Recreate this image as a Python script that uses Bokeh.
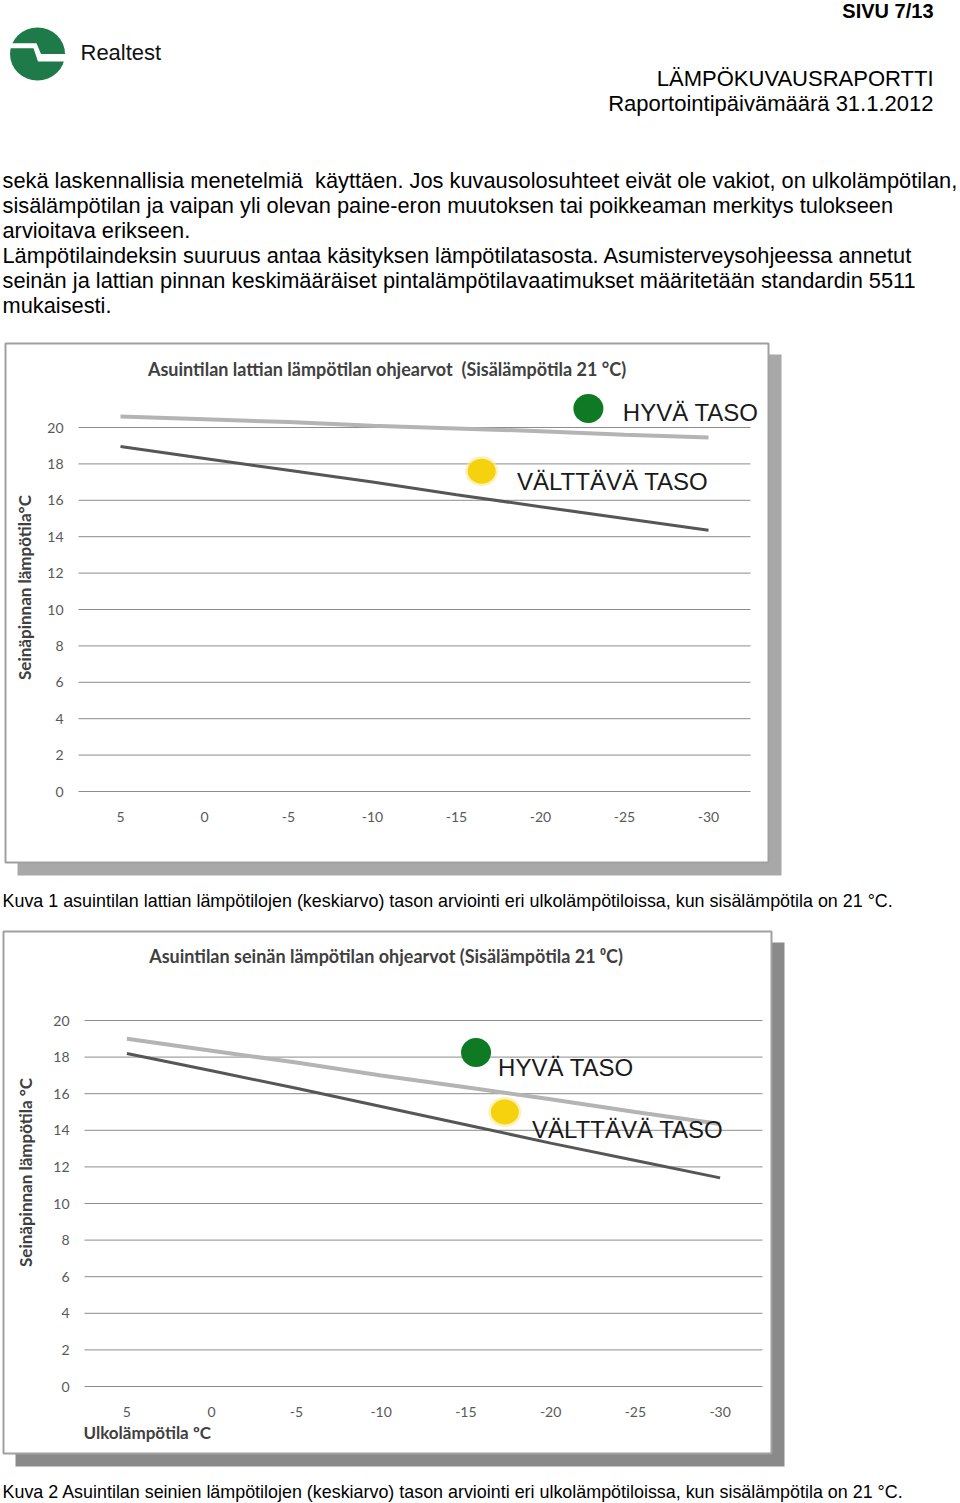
import math
from bokeh.plotting import figure
from bokeh.models import Range1d
from bokeh.core.properties import value
from bokeh.embed import file_html
from bokeh.resources import INLINE

# ---------------- data ----------------
outdoor = [5, 0, -5, -10, -15, -20, -25, -30]
xtick_labels = ["5", "0", "-5", "-10", "-15", "-20", "-25", "-30"]
yticks = [0, 2, 4, 6, 8, 10, 12, 14, 16, 18, 20]
ytick_labels = [str(v) for v in yticks]

# Kuva 1: floor surface temperature guide values
floor_good = [20.6, 20.45, 20.3, 20.1, 19.95, 19.8, 19.6, 19.45]
floor_acceptable = [18.95, 18.3, 17.65, 17.0, 16.3, 15.65, 15.0, 14.35]
# Kuva 2: wall surface temperature guide values
wall_good = [19.0, 18.35, 17.7, 17.0, 16.35, 15.7, 15.0, 14.35]
wall_acceptable = [18.2, 17.25, 16.3, 15.3, 14.3, 13.3, 12.35, 11.4]

# legend markers / labels (in chart data units: outdoor temp, surface temp)
floor_good_marker = [-22.85, 21.05]
floor_acc_marker = [-16.5, 17.6]
floor_good_label = [-24.9, 20.85]
floor_acc_label = [-18.6, 17.05]
wall_good_marker = [-15.6, 18.25]
wall_acc_marker = [-17.3, 15.0]
wall_good_label = [-16.9, 17.45]
wall_acc_label = [-18.9, 14.05]

legend_texts = ["HYVÄ TASO", "VÄLTTÄVÄ TASO"]

title1 = "Asuintilan lattian lämpötilan ohjearvot\u00a0 (Sisälämpötila 21 °C)"
title2 = "Asuintilan seinän lämpötilan ohjearvot (Sisälämpötila 21 ⁰C)"
ylabel1 = "Seinäpinnan lämpötila°C"
ylabel2 = "Seinäpinnan lämpötila °C"
xlabel2 = "Ulkolämpötila ºC"

paragraph = [
    "sekä laskennallisia menetelmiä\u00a0 käyttäen. Jos kuvausolosuhteet eivät ole vakiot, on ulkolämpötilan,",
    "sisälämpötilan ja vaipan yli olevan paine-eron muutoksen tai poikkeaman merkitys tulokseen",
    "arvioitava erikseen.",
    "Lämpötilaindeksin suuruus antaa käsityksen lämpötilatasosta. Asumisterveysohjeessa annetut",
    "seinän ja lattian pinnan keskimääräiset pintalämpötilavaatimukset määritetään standardin 5511",
    "mukaisesti.",
]
caption1 = "Kuva 1 asuintilan lattian lämpötilojen (keskiarvo) tason arviointi eri ulkolämpötiloissa, kun sisälämpötila on 21 °C."
caption2 = "Kuva 2 Asuintilan seinien lämpötilojen (keskiarvo) tason arviointi eri ulkolämpötiloissa, kun sisälämpötila on 21 °C."

# ---------------- page ----------------
W, H = 960, 1503
ARIAL = value("Liberation Sans")
CAL = value("Lato")

p = figure(width=W, height=H, x_range=Range1d(0, W), y_range=Range1d(H, 0),
           output_backend="svg", toolbar_location=None,
           x_axis_type=None, y_axis_type=None, min_border=0,
           outline_line_color=None, background_fill_color="white",
           border_fill_color="white",
           styles={"position": "absolute", "left": "0px", "top": "0px"})

# logo
p.ellipse(x=[37], y=[53.5], width=[55], height=[53], fill_color="#1e7a48", line_color=None)
p.patch(x=[5, 36, 40.5, 70, 70, 37.5, 33, 5], y=[42.7, 42.7, 53.5, 53.5, 61, 61, 47.8, 47.8],
        fill_color="white", line_color=None)
p.text(x=[80], y=[52], text=["Realtest"], text_font=ARIAL, text_font_size="22px",
       text_color="#111111", text_baseline="middle")

# header
p.text(x=[933], y=[10], text=["SIVU 7/13"], text_font=ARIAL, text_font_style="bold",
       text_font_size="20px", text_color="#000000", text_align="right", text_baseline="middle")
p.text(x=[933, 933], y=[78, 103], text=["LÄMPÖKUVAUSRAPORTTI", "Raportointipäivämäärä 31.1.2012"],
       text_font=ARIAL, text_font_size="22px", text_color="#000000", text_align="right",
       text_baseline="middle")

# paragraph
p.text(x=[2] * len(paragraph), y=[180, 204.5, 229.5, 255, 280, 305], text=paragraph,
       text_font=ARIAL, text_font_size="21.8px", text_color="#000000", text_baseline="middle")

# captions
p.text(x=[2, 2], y=[900, 1491], text=[caption1, caption2], text_font=ARIAL,
       text_font_size="17.9px", text_color="#000000", text_baseline="middle")

x_ranges = {}
y_ranges = {}


def chart(key, box, shadow_color, plot_left, plot_right, y0px, y20px,
          good, acc, gm, am, gl, al, title, title_xy, ylabel, ylabel_xy,
          ytick_x, xtick_y, xlabel=None, xlabel_xy=None):
    l, t, r, b = box
    # shadow + frame
    p.quad(left=[l + 12], right=[r + 13], top=[t + 11], bottom=[b + 13],
           fill_color=shadow_color, line_color=None)
    p.quad(left=[l], right=[r], top=[t], bottom=[b], fill_color="white",
           line_color="#a0a0a0", line_width=2)

    n = len(outdoor)
    cat_w = (plot_right - plot_left) / n
    ppu_x = cat_w / (outdoor[0] - outdoor[1])
    x_first = plot_left + cat_w / 2
    x_ranges[key + "x"] = Range1d(outdoor[0] + x_first / ppu_x,
                                  outdoor[0] - (W - x_first) / ppu_x)
    ppu_y = (y0px - y20px) / (yticks[-1] - yticks[0])
    y_ranges[key + "y"] = Range1d(-(H - y0px) / ppu_y, y0px / ppu_y)
    xr, yr = key + "x", key + "y"
    step = outdoor[0] - outdoor[1]

    # gridlines
    p.segment(x0=[outdoor[0] + step / 2] * len(yticks), x1=[outdoor[-1] - step / 2] * len(yticks),
              y0=yticks, y1=yticks, line_color="#8c8c8c", line_width=1,
              x_range_name=xr, y_range_name=yr)
    # tick labels
    p.text(x=[ytick_x] * len(yticks), y=yticks, text=ytick_labels, y_range_name=yr,
           text_font=CAL, text_font_size="14px", text_color="#595959",
           text_align="right", text_baseline="middle")
    p.text(x=outdoor, y=[xtick_y] * len(outdoor), text=xtick_labels, x_range_name=xr,
           text_font=CAL, text_font_size="14px", text_color="#595959",
           text_align="center", text_baseline="middle")
    # lines
    p.line(x=outdoor, y=good, line_color="#b4b4b4", line_width=4,
           x_range_name=xr, y_range_name=yr)
    p.line(x=outdoor, y=acc, line_color="#565656", line_width=3,
           x_range_name=xr, y_range_name=yr)
    # markers
    p.ellipse(x=[am[0]], y=[am[1]], width=[33], height=[30], width_units="screen",
              height_units="screen", fill_color="#fbe98a", fill_alpha=0.6, line_color=None,
              x_range_name=xr, y_range_name=yr)
    p.ellipse(x=[am[0]], y=[am[1]], width=[28], height=[25], width_units="screen",
              height_units="screen", fill_color="#f6d20e", line_color=None,
              x_range_name=xr, y_range_name=yr)
    p.ellipse(x=[gm[0]], y=[gm[1]], width=[30], height=[29], width_units="screen",
              height_units="screen", fill_color="#0e7a24", line_color=None,
              x_range_name=xr, y_range_name=yr)
    p.text(x=[gl[0], al[0]], y=[gl[1], al[1]], text=legend_texts,
           x_range_name=xr, y_range_name=yr, text_font=ARIAL, text_font_size="24px",
           text_color="#1a1a1a", text_baseline="middle")
    # titles
    p.text(x=[title_xy[0]], y=[title_xy[1]], text=[title], text_font=CAL,
           text_font_style="bold", text_font_size="18px", text_color="#404040",
           text_align="center", text_baseline="middle")
    p.text(x=[ylabel_xy[0]], y=[ylabel_xy[1]], text=[ylabel], angle=[math.pi / 2],
           text_font=CAL, text_font_style="bold", text_font_size="17px",
           text_color="#404040", text_align="center", text_baseline="middle")
    if xlabel:
        p.text(x=[xlabel_xy[0]], y=[xlabel_xy[1]], text=[xlabel], text_font=CAL,
               text_font_style="bold", text_font_size="17px", text_color="#404040",
               text_align="left", text_baseline="middle")


chart("c1", (5, 343, 768, 862), "#a8a8a8", 78, 750, 791, 427,
      floor_good, floor_acceptable, floor_good_marker, floor_acc_marker,
      floor_good_label, floor_acc_label, title1, (386.5, 368), ylabel1, (24, 587),
      63, 816)
chart("c2", (3, 931, 771, 1453), "#8a8a8a", 84, 762, 1386, 1020,
      wall_good, wall_acceptable, wall_good_marker, wall_acc_marker,
      wall_good_label, wall_acc_label, title2, (385.5, 955), ylabel2, (25, 1172),
      69, 1411, xlabel2, (83, 1432))

p.extra_x_ranges = x_ranges
p.extra_y_ranges = y_ranges

open("out.html", "w").write(file_html(p, INLINE))
